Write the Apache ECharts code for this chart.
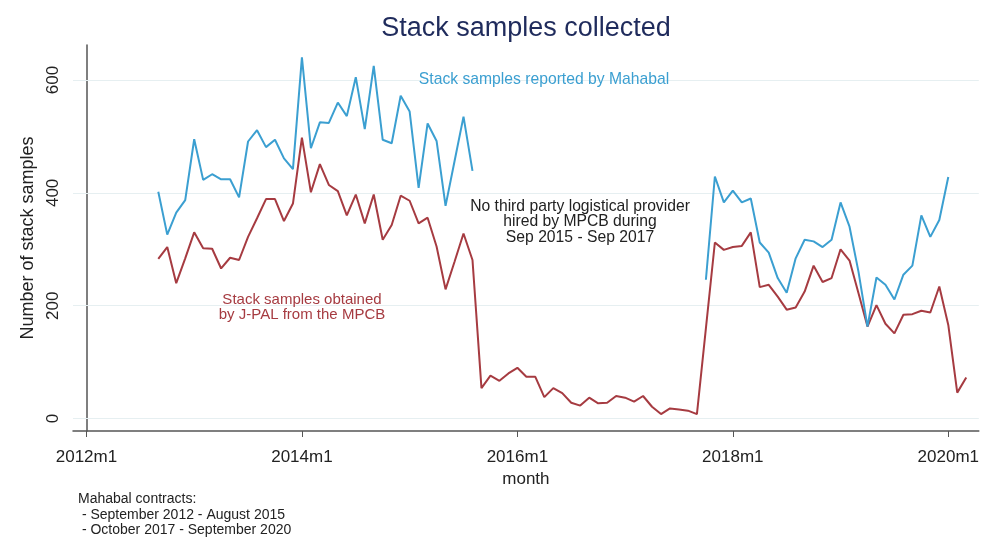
<!DOCTYPE html>
<html>
<head>
<meta charset="utf-8">
<title>Stack samples collected</title>
<script src="https://cdn.jsdelivr.net/npm/echarts@6/dist/echarts.min.js"></script>
<style>
  html, body { margin: 0; padding: 0; background: #fff; }
  #main { width: 982px; height: 540px; }
</style>
</head>
<body>
<div id="main"></div>
<script>
// months are written as Stata style labels, e.g. 2012m9
var mahabalStart1 = '2012m9';
var mahabalValues1 = [402, 326, 365, 387, 495, 423, 433, 424, 424, 392, 491, 511,
  481, 494, 461, 442, 640, 479, 525, 524, 560, 536, 605, 513,
  625, 494, 488, 572, 544, 409, 523, 492, 377, 456, 535, 439];

var mahabalStart2 = '2017m10';
var mahabalValues2 = [246, 429, 383, 404, 383, 390, 312, 294, 249, 223, 284, 317,
  314, 304, 317, 383, 340, 260, 163, 250, 237, 211, 255, 271,
  360, 322, 352, 428];

var jpalStart = '2012m9';
var jpalValues = [283, 304, 240, 284, 330, 302, 301, 266, 285, 281, 322, 355,
  389, 389, 350, 381, 498, 401, 451, 414, 403, 360, 397, 346,
  397, 317, 343, 395, 386, 346, 356, 305, 229, 278, 328, 281,
  54, 76, 67, 80, 90, 74, 74, 38, 54, 45, 28, 23,
  37, 27, 28, 40, 37, 30, 40, 21, 8, 18, 16, 14,
  8, 160, 312, 299, 304, 306, 330, 233, 237, 216, 193, 197,
  225, 271, 242, 249, 300, 280, 222, 163, 201, 168, 151, 184,
  185, 191, 188, 234, 166, 46, 73];

var xTickLabels = ['2012m1', '2014m1', '2016m1', '2018m1', '2020m1'];
var yTicks = [0, 200, 400, 600];

var blue = '#3b9fd1';
var red = '#a63b41';
var font = '"Liberation Sans", Arial, sans-serif';

function monthIndex(label) {
  var p = label.split('m');
  return (parseInt(p[0], 10) - 2012) * 12 + parseInt(p[1], 10) - 1;
}

function monthLabel(i) {
  return (2012 + Math.floor(i / 12)) + 'm' + (i % 12 + 1);
}

function toPoints(start, values) {
  var s = monthIndex(start);
  return values.map(function (v, k) { return [s + k, v]; });
}

var xTicks = xTickLabels.map(monthIndex);

var myChart = echarts.init(document.getElementById('main'));

var option = {
  animation: false,
  backgroundColor: '#fff',
  grid: { left: 73, right: 3, top: 45, bottom: 109 },
  xAxis: {
    type: 'value',
    min: -1.5,
    max: 99.4,
    name: 'month',
    nameLocation: 'middle',
    nameGap: 36,
    nameTextStyle: { fontFamily: font, fontSize: 17, color: '#222' },
    axisLine: { show: true, onZero: false, lineStyle: { color: '#555', width: 1.5 } },
    axisTick: { show: true, length: 6, customValues: xTicks, lineStyle: { color: '#555' } },
    axisLabel: {
      customValues: xTicks,
      margin: 18,
      fontFamily: font, fontSize: 17, color: '#222',
      formatter: function (v) { return monthLabel(v); }
    },
    splitLine: { show: false }
  },
  yAxis: {
    type: 'value',
    min: -22,
    max: 662,
    name: 'Number of stack samples',
    nameLocation: 'middle',
    nameGap: 31,
    nameTextStyle: { fontFamily: font, fontSize: 18, color: '#222' },
    axisLine: { show: true, lineStyle: { color: '#555', width: 1.5 } },
    axisTick: { show: true, length: 6, customValues: yTicks, lineStyle: { color: '#555' } },
    axisLabel: {
      customValues: yTicks,
      rotate: 90,
      margin: 11,
      fontFamily: font, fontSize: 17, color: '#222'
    },
    splitLine: { show: false }
  },
  series: [
    {
      name: 'jpal',
      type: 'line',
      showSymbol: false,
      data: toPoints(jpalStart, jpalValues),
      lineStyle: { color: red, width: 2 },
      itemStyle: { color: red },
      z: 3,
      markLine: {
        silent: true,
        symbol: 'none',
        label: { show: false },
        lineStyle: { color: '#e6eff1', width: 1.2, type: 'solid' },
        data: yTicks.map(function (v) { return { yAxis: v }; }),
        z: 1
      }
    },
    {
      name: 'mahabal1',
      type: 'line',
      showSymbol: false,
      data: toPoints(mahabalStart1, mahabalValues1),
      lineStyle: { color: blue, width: 2 },
      itemStyle: { color: blue },
      z: 4
    },
    {
      name: 'mahabal2',
      type: 'line',
      showSymbol: false,
      data: toPoints(mahabalStart2, mahabalValues2),
      lineStyle: { color: blue, width: 2 },
      itemStyle: { color: blue },
      z: 4
    }
  ],
  graphic: [
    {
      type: 'text', x: 526, y: 29, z: 10,
      style: {
        text: 'Stack samples collected',
        fill: '#1f2b5c', font: '27px ' + font, align: 'center', verticalAlign: 'middle'
      }
    },
    {
      type: 'text', x: 544, y: 80, z: 10,
      style: {
        text: 'Stack samples reported by Mahabal',
        fill: blue, font: '15.7px ' + font, align: 'center', verticalAlign: 'middle'
      }
    },
    {
      type: 'text', x: 580, y: 222, z: 10,
      style: {
        text: 'No third party logistical provider\nhired by MPCB during\nSep 2015 - Sep 2017',
        fill: '#222', font: '15.7px ' + font, align: 'center', verticalAlign: 'middle',
        lineHeight: 15.5
      }
    },
    {
      type: 'text', x: 302, y: 307, z: 10,
      style: {
        text: 'Stack samples obtained\nby J-PAL from the MPCB',
        fill: red, font: '15px ' + font, align: 'center', verticalAlign: 'middle',
        lineHeight: 15
      }
    },
    {
      type: 'text', x: 78, y: 515, z: 10,
      style: {
        text: 'Mahabal contracts:\n - September 2012 - August 2015\n - October 2017 - September 2020',
        fill: '#222', font: '14px ' + font, align: 'left', verticalAlign: 'middle',
        lineHeight: 15.5
      }
    }
  ]
};

myChart.setOption(option);
</script>
</body>
</html>
